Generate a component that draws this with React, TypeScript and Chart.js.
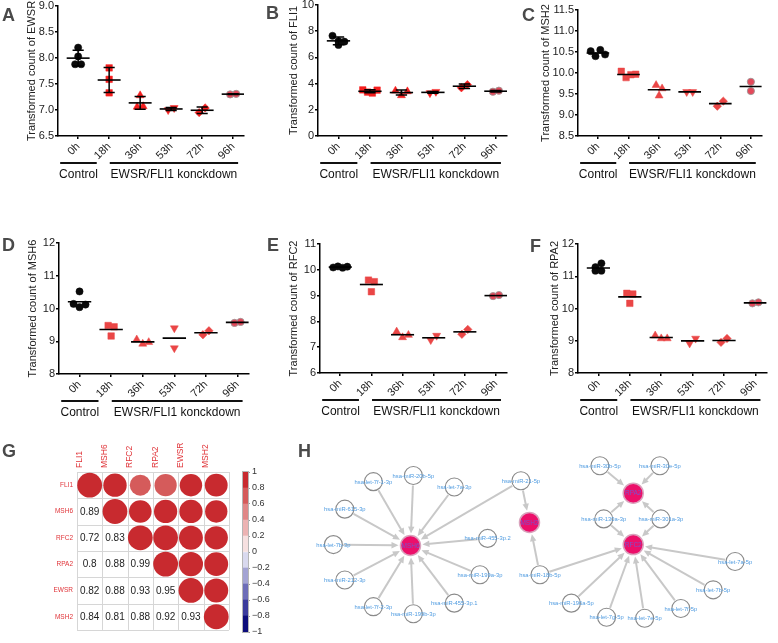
import React, { useEffect, useRef } from 'react';
import { Chart, registerables } from 'chart.js';

Chart.register(...registerables);

const FONT = '"Liberation Sans", Arial, Helvetica, sans-serif';

// ---------------- Data: panels A-F ----------------
const TIME_POINTS = ['0h', '18h', '36h', '53h', '72h', '96h'];
const GROUP_LABELS = ['Control', 'EWSR/FLI1 konckdown'];

const EWSR_COUNTS = [[8.2, 8.03, 7.88, 7.88], [7.81, 7.59, 7.33], [7.28, 7.06, 7.07], [7.0, 7.04], [6.95, 7.04], [7.3, 7.31]];
const FLI1_COUNTS = [[7.65, 7.25, 7.2, 6.95], [3.52, 3.35, 3.28, 3.5], [3.45, 3.1, 3.4], [3.28, 3.38], [3.68, 3.92], [3.38, 3.46]];
const MSH2_COUNTS = [[10.52, 10.4, 10.55, 10.44], [10.04, 9.89, 9.96, 9.97], [9.46, 9.71, 9.63], [9.55, 9.55], [9.21, 9.33], [9.79, 9.57]];
const MSH6_COUNTS = [[10.52, 10.14, 10.04, 10.12], [9.48, 9.16, 9.44], [9.05, 8.92, 8.97], [9.4, 8.79], [9.2, 9.32], [9.56, 9.59]];
const RFC2_COUNTS = [[10.09, 10.13, 10.08, 10.12], [9.6, 9.15, 9.54], [7.6, 7.38, 7.47], [7.28, 7.45], [7.5, 7.69], [8.98, 9.02]];
const RPA2_COUNTS = [[11.28, 11.4, 11.17, 11.17], [10.47, 10.16, 10.45], [9.16, 9.07, 9.07], [8.92, 9.07], [8.95, 9.07], [10.16, 10.19]];

// ---------------- Data: panel G ----------------
const CORR_GENES = ['FLI1', 'MSH6', 'RFC2', 'RPA2', 'EWSR', 'MSH2'];
const CORR_LOWER = [[], [0.89], [0.72, 0.83], [0.8, 0.88, 0.99], [0.82, 0.88, 0.93, 0.95], [0.84, 0.81, 0.88, 0.92, 0.93]];
const COLORBAR_EDGES = [-1, -0.8, -0.6, -0.4, -0.2, 0, 0.2, 0.4, 0.6, 0.8, 1];
const COLORBAR_COLORS = ['#0c0c7a', '#3b3b9c', '#6d6db8', '#a3a3d3', '#d9d9ee', '#f6e0e0', '#ecb3b3', '#e08787', '#d55b5b', '#c82a2f'];

// ---------------- Data: panel H ----------------
const HUB_GENES = ['MSH6', 'MSH2', 'RPA2', 'RFC2'];
const HUB_X = [104, 229, 338, 338];
const HUB_Y = [106, 80, 47, 105];
const MIRNAS = [
  'hsa-let-7f-1-3p', 'hsa-miR-20b-5p', 'hsa-let-7a-3p', 'hsa-miR-615-3p', 'hsa-let-7b-3p', 'hsa-miR-212-3p',
  'hsa-let-7f-2-3p', 'hsa-miR-199b-3p', 'hsa-miR-455-3p.1', 'hsa-miR-199a-3p', 'hsa-miR-455-3p.2', 'hsa-miR-21-5p',
  'hsa-miR-18b-5p', 'hsa-miR-30b-5p', 'hsa-miR-30e-5p', 'hsa-miR-130a-3p', 'hsa-miR-301a-3p', 'hsa-let-7a-5p',
  'hsa-let-7b-5p', 'hsa-let-7f-5p', 'hsa-let-7e-5p', 'hsa-let-7g-5p', 'hsa-miR-196a-5p',
];
const MIRNA_X = [65, 107, 150, 35, 23, 35, 65, 107, 150, 177, 185, 220, 240, 303, 366, 307, 367, 445, 422, 388, 350, 310, 273];
const MIRNA_Y = [34, 27, 40, 65, 105, 145, 175, 183, 171, 139, 98, 33, 139, 16, 16, 76, 76, 124, 156, 177, 188, 187, 171];
const TARGET_EDGES: [string, string][] = [
  ['hsa-let-7f-1-3p', 'MSH6'], ['hsa-miR-20b-5p', 'MSH6'], ['hsa-let-7a-3p', 'MSH6'], ['hsa-miR-615-3p', 'MSH6'],
  ['hsa-let-7b-3p', 'MSH6'], ['hsa-miR-212-3p', 'MSH6'], ['hsa-let-7f-2-3p', 'MSH6'], ['hsa-miR-199b-3p', 'MSH6'],
  ['hsa-miR-455-3p.1', 'MSH6'], ['hsa-miR-199a-3p', 'MSH6'], ['hsa-miR-455-3p.2', 'MSH6'], ['hsa-miR-21-5p', 'MSH6'],
  ['hsa-miR-21-5p', 'MSH2'], ['hsa-miR-18b-5p', 'MSH2'],
  ['hsa-miR-30b-5p', 'RPA2'], ['hsa-miR-30e-5p', 'RPA2'], ['hsa-miR-130a-3p', 'RPA2'], ['hsa-miR-301a-3p', 'RPA2'],
  ['hsa-miR-130a-3p', 'RFC2'], ['hsa-miR-301a-3p', 'RFC2'], ['hsa-miR-18b-5p', 'RFC2'], ['hsa-miR-196a-5p', 'RFC2'],
  ['hsa-let-7g-5p', 'RFC2'], ['hsa-let-7e-5p', 'RFC2'], ['hsa-let-7f-5p', 'RFC2'], ['hsa-let-7b-5p', 'RFC2'],
  ['hsa-let-7a-5p', 'RFC2'],
];

// ---------------- Layout / style ----------------
type Panel = {
  letter: string; gene: string; counts: number[][]; yMin: number; yMax: number; yStep: number; decimals: number;
  sd: boolean; red: string; left: number; top: number; w: number; h: number; axisX: number; plotTop: number;
  plotBottom: number; cat: number; titleX: number; lx: number; ly: number;
};

const PANELS: Panel[] = [
  { letter: 'A', gene: 'EWSR', counts: EWSR_COUNTS, yMin: 6.5, yMax: 9, yStep: 0.5, decimals: 1, sd: true, red: '#f41e1e', left: 0, top: -2, w: 256, h: 192, axisX: 58, plotTop: 6, plotBottom: 136, cat: 31, titleX: 32, lx: 2, ly: 6 },
  { letter: 'B', gene: 'FLI1', counts: FLI1_COUNTS, yMin: 0, yMax: 10, yStep: 2, decimals: 0, sd: true, red: '#f41e1e', left: 256, top: -3, w: 256, h: 193, axisX: 318, plotTop: 5, plotBottom: 136, cat: 31.6, titleX: 294, lx: 266, ly: 4 },
  { letter: 'C', gene: 'MSH2', counts: MSH2_COUNTS, yMin: 8.5, yMax: 11.5, yStep: 0.5, decimals: 1, sd: false, red: '#ea4646', left: 512, top: 0, w: 266, h: 190, axisX: 578, plotTop: 10, plotBottom: 136, cat: 30.6, titleX: 546, lx: 522, ly: 6 },
  { letter: 'D', gene: 'MSH6', counts: MSH6_COUNTS, yMin: 8, yMax: 12, yStep: 1, decimals: 0, sd: false, red: '#ea4646', left: 0, top: 225, w: 256, h: 200, axisX: 59, plotTop: 243, plotBottom: 374, cat: 31.6, titleX: 33, lx: 2, ly: 236 },
  { letter: 'E', gene: 'RFC2', counts: RFC2_COUNTS, yMin: 6, yMax: 11, yStep: 1, decimals: 0, sd: false, red: '#ea4646', left: 256, top: 225, w: 256, h: 200, axisX: 320, plotTop: 244, plotBottom: 373, cat: 31.8, titleX: 294, lx: 267, ly: 236 },
  { letter: 'F', gene: 'RPA2', counts: RPA2_COUNTS, yMin: 8, yMax: 12, yStep: 1, decimals: 0, sd: false, red: '#ea4646', left: 512, top: 225, w: 266, h: 200, axisX: 578, plotTop: 244, plotBottom: 373, cat: 31.4, titleX: 555, lx: 530, ly: 237 },
];

const MARKERS = [
  { style: 'circle', radius: 3.6, rot: 0 },
  { style: 'rect', radius: 4.6, rot: 0 },
  { style: 'triangle', radius: 4.6, rot: 0 },
  { style: 'triangle', radius: 4.6, rot: 180 },
  { style: 'rectRot', radius: 4.2, rot: 0 },
  { style: 'circle', radius: 3.6, rot: 0 },
];

const X_MIN = -0.65;
const X_MAX = 5.35;

function mean(a: number[]) {
  return a.reduce((s, v) => s + v, 0) / a.length;
}
function stdev(a: number[]) {
  const m = mean(a);
  return Math.sqrt(a.reduce((s, v) => s + (v - m) * (v - m), 0) / (a.length - 1));
}

function swarmOffsets(vals: number[], pxPerUnit: number, spacing: number, thresh: number): number[] {
  const order = vals.map((_, i) => i).sort((a, b) => vals[b] - vals[a]);
  const rows: number[][] = [];
  let top = Infinity;
  for (const idx of order) {
    if (rows.length && (top - vals[idx]) * pxPerUnit < thresh) rows[rows.length - 1].push(idx);
    else {
      rows.push([idx]);
      top = vals[idx];
    }
  }
  const offs = new Array(vals.length).fill(0);
  rows.forEach((r) => {
    r.sort((a, b) => a - b);
    const sp = r.length > 3 ? spacing * 0.8 : spacing;
    r.forEach((idx, k) => {
      offs[idx] = (k - (r.length - 1) / 2) * sp;
    });
  });
  return offs;
}

const groupPlugin = {
  id: 'groupLabels',
  afterDraw(chart: any) {
    const { ctx, chartArea, scales } = chart;
    const x = scales.x;
    const spans = [[-0.58, 0.6], [1.02, 5.16]];
    ctx.save();
    ctx.strokeStyle = '#111';
    ctx.lineWidth = 2;
    ctx.fillStyle = '#111';
    ctx.font = `12px ${FONT}`;
    ctx.textAlign = 'center';
    ctx.textBaseline = 'middle';
    spans.forEach((s, k) => {
      const a = x.getPixelForValue(s[0]);
      const b = x.getPixelForValue(s[1]);
      ctx.beginPath();
      ctx.moveTo(a, chartArea.bottom + 27);
      ctx.lineTo(b, chartArea.bottom + 27);
      ctx.stroke();
      ctx.fillText(GROUP_LABELS[k], (a + b) / 2, chartArea.bottom + 38.5);
    });
    ctx.restore();
  },
};

function buildScatter(p: Panel) {
  const relTop = p.plotTop - p.top;
  const relBottom = p.plotBottom - p.top;
  const xH = p.h - relBottom;
  const yW = p.axisX - p.left;
  const padRight = p.w - yW - 6 * p.cat;
  const pxPerUnit = (p.plotBottom - p.plotTop) / (p.yMax - p.yMin);
  const datasets: any[] = [];

  p.counts.forEach((vals, i) => {
    const m = mean(vals);
    datasets.push({
      type: 'line',
      data: [{ x: i - 0.37, y: m }, { x: i + 0.37, y: m }],
      borderColor: '#000',
      borderWidth: 1.6,
      pointRadius: 0,
      showLine: true,
      order: 0,
    });
    if (p.sd) {
      const s = stdev(vals);
      datasets.push({
        type: 'line',
        data: [
          { x: i, y: m - s }, { x: i, y: m + s }, { x: i, y: null },
          { x: i - 0.18, y: m + s }, { x: i + 0.18, y: m + s }, { x: i, y: null },
          { x: i - 0.18, y: m - s }, { x: i + 0.18, y: m - s },
        ],
        borderColor: '#000',
        borderWidth: 1.5,
        pointRadius: 0,
        showLine: true,
        spanGaps: false,
        order: 0,
      });
    }
  });

  p.counts.forEach((vals, i) => {
    const offs = swarmOffsets(vals, pxPerUnit, 6, 7);
    const mk = MARKERS[i];
    const fill = i === 0 ? '#0a0a0a' : i === 5 ? '#e4485a' : p.red;
    datasets.push({
      type: 'scatter',
      data: vals.map((v, j) => ({ x: i + offs[j] / p.cat, y: v })),
      pointStyle: mk.style,
      pointRadius: mk.radius,
      pointRotation: mk.rot,
      pointBackgroundColor: fill,
      pointBorderColor: i === 5 ? 'rgba(160,150,150,0.9)' : fill,
      pointBorderWidth: i === 5 ? 1 : 0.5,
      showLine: false,
      order: 1,
    });
  });

  const axisCommon = {
    grid: { display: true, drawOnChartArea: false, drawTicks: true, tickLength: 3, color: '#000', tickColor: '#000', lineWidth: 1.5 },
    border: { display: true, color: '#000', width: 1.5 },
  };

  return {
    type: 'scatter',
    data: { datasets },
    plugins: [groupPlugin],
    options: {
      responsive: false,
      animation: false,
      events: [],
      layout: { padding: { top: relTop, right: padRight, bottom: 0, left: 0 } },
      plugins: { legend: { display: false }, tooltip: { enabled: false } },
      scales: {
        x: {
          type: 'linear',
          min: X_MIN,
          max: X_MAX,
          afterBuildTicks: (s: any) => {
            s.ticks = TIME_POINTS.map((_, i) => ({ value: i }));
          },
          afterFit: (s: any) => {
            s.height = xH;
          },
          ticks: {
            callback: (v: number) => TIME_POINTS[Math.round(v)] ?? '',
            minRotation: 45,
            maxRotation: 45,
            autoSkip: false,
            font: { family: FONT, size: 11 },
            color: '#222',
            padding: 1,
          },
          ...axisCommon,
        },
        y: {
          type: 'linear',
          min: p.yMin,
          max: p.yMax,
          afterFit: (s: any) => {
            s.width = yW;
          },
          ticks: {
            stepSize: p.yStep,
            callback: (v: number) => Number(v).toFixed(p.decimals),
            font: { family: FONT, size: 11 },
            color: '#222',
            padding: 1,
          },
          title: {
            display: true,
            text: 'Transformed count of ' + p.gene,
            font: { family: FONT, size: 11 },
            color: '#222',
            padding: { top: p.titleX - p.left - 6.6, bottom: 0 },
          },
          ...axisCommon,
        },
      },
    },
  };
}

// ---------------- Panel G ----------------
function corrValue(i: number, j: number) {
  if (i === j) return 1;
  return i > j ? CORR_LOWER[i][j] : CORR_LOWER[j][i];
}
function binColor(v: number) {
  for (let k = 0; k < COLORBAR_COLORS.length; k++) {
    const lo = COLORBAR_EDGES[k];
    const hi = COLORBAR_EDGES[k + 1];
    if (v >= 0 ? v > lo && v <= hi : v >= lo && v < hi) return COLORBAR_COLORS[k];
  }
  return COLORBAR_COLORS[COLORBAR_COLORS.length - 1];
}

const cellGridPlugin = {
  id: 'cellGrid',
  beforeDatasetsDraw(chart: any) {
    const { ctx, chartArea, scales } = chart;
    ctx.save();
    ctx.strokeStyle = '#d6d6d6';
    ctx.lineWidth = 1;
    for (let k = 0; k <= CORR_GENES.length; k++) {
      const px = Math.round(scales.x.getPixelForValue(k - 0.5)) + 0.5;
      const py = Math.round(scales.y.getPixelForValue(k - 0.5)) + 0.5;
      ctx.beginPath();
      ctx.moveTo(px, chartArea.top);
      ctx.lineTo(px, chartArea.bottom);
      ctx.moveTo(chartArea.left, py);
      ctx.lineTo(chartArea.right, py);
      ctx.stroke();
    }
    ctx.restore();
  },
  afterDatasetsDraw(chart: any) {
    const { ctx, scales } = chart;
    ctx.save();
    ctx.fillStyle = '#222';
    ctx.font = `10px ${FONT}`;
    ctx.textAlign = 'center';
    ctx.textBaseline = 'middle';
    CORR_LOWER.forEach((row, i) => {
      row.forEach((v, j) => {
        ctx.fillText(String(v), scales.x.getPixelForValue(j), scales.y.getPixelForValue(i) + 0.5);
      });
    });
    ctx.restore();
  },
};

function buildCorr() {
  const data: any[] = [];
  for (let i = 0; i < CORR_GENES.length; i++) {
    for (let j = i; j < CORR_GENES.length; j++) data.push({ x: j, y: i, v: corrValue(i, j) });
  }
  const labelTicks = (s: any) => {
    s.ticks = CORR_GENES.map((_, i) => ({ value: i }));
  };
  return {
    type: 'scatter',
    data: {
      datasets: [
        {
          data,
          pointStyle: 'circle',
          pointRadius: (ctx: any) => {
            const a = ctx.chart.chartArea;
            const cell = a ? Math.min(a.width, a.height) / CORR_GENES.length : 26.7;
            const v = ctx.raw ? ctx.raw.v : 1;
            return cell * 0.49 * Math.sqrt(Math.abs(v));
          },
          pointBackgroundColor: (ctx: any) => binColor(ctx.raw ? ctx.raw.v : 1),
          pointBorderWidth: 0,
        },
      ],
    },
    plugins: [cellGridPlugin],
    options: {
      responsive: false,
      animation: false,
      events: [],
      layout: { padding: { top: 0, right: 2, bottom: 11, left: 0 } },
      plugins: { legend: { display: false }, tooltip: { enabled: false } },
      scales: {
        x: {
          type: 'linear',
          position: 'top',
          min: -0.5,
          max: 5.5,
          afterBuildTicks: labelTicks,
          afterFit: (s: any) => {
            s.height = 32;
          },
          ticks: {
            callback: (v: number) => CORR_GENES[Math.round(v)] ?? '',
            minRotation: 90,
            maxRotation: 90,
            autoSkip: false,
            color: '#e0353a',
            font: { family: FONT, size: 8.5 },
            padding: 4,
          },
          grid: { display: false, drawTicks: false },
          border: { display: false },
        },
        y: {
          type: 'linear',
          min: -0.5,
          max: 5.5,
          reverse: true,
          afterBuildTicks: labelTicks,
          afterFit: (s: any) => {
            s.width = 77;
          },
          ticks: {
            callback: (v: number) => CORR_GENES[Math.round(v)] ?? '',
            autoSkip: false,
            color: '#e0353a',
            font: { family: FONT, size: 6.5 },
            padding: 4,
          },
          grid: { display: false, drawTicks: false },
          border: { display: false },
        },
      },
    },
  };
}

const outlinePlugin = {
  id: 'outline',
  afterDatasetsDraw(chart: any) {
    const { ctx, chartArea } = chart;
    ctx.save();
    ctx.strokeStyle = '#b5b5b5';
    ctx.lineWidth = 1;
    ctx.strokeRect(chartArea.left - 0.5, chartArea.top - 0.5, chartArea.right - chartArea.left + 1, chartArea.bottom - chartArea.top + 1);
    ctx.restore();
  },
};

function buildColorbar() {
  return {
    type: 'bar',
    data: {
      labels: [''],
      datasets: COLORBAR_COLORS.map((c, k) => ({
        data: [[COLORBAR_EDGES[k], COLORBAR_EDGES[k + 1]]],
        backgroundColor: c,
        borderWidth: 0,
        grouped: false,
        barPercentage: 1,
        categoryPercentage: 1,
      })),
    },
    plugins: [outlinePlugin],
    options: {
      responsive: false,
      animation: false,
      events: [],
      layout: { padding: { top: 32, right: 0, bottom: 11, left: 7 } },
      plugins: { legend: { display: false }, tooltip: { enabled: false } },
      scales: {
        x: { display: false },
        y: {
          position: 'right',
          min: -1,
          max: 1,
          afterFit: (s: any) => {
            s.width = 30;
          },
          ticks: {
            stepSize: 0.2,
            callback: (v: number) => {
              const r = Math.round(v * 10) / 10;
              return r < 0 ? '\u2212' + Math.abs(r) : String(r);
            },
            font: { family: FONT, size: 9 },
            color: '#333',
            padding: 2,
          },
          grid: { drawOnChartArea: false, drawTicks: true, tickLength: 2, color: '#999', tickColor: '#999' },
          border: { display: false },
        },
      },
    },
  };
}

// ---------------- Panel H ----------------
const networkPlugin = {
  id: 'network',
  beforeDatasetsDraw(chart: any) {
    const { ctx, scales } = chart;
    const pos = (name: string) => {
      const h = HUB_GENES.indexOf(name);
      if (h >= 0) return { x: scales.x.getPixelForValue(HUB_X[h]), y: scales.y.getPixelForValue(HUB_Y[h]), r: 10 };
      const m = MIRNAS.indexOf(name);
      return { x: scales.x.getPixelForValue(MIRNA_X[m]), y: scales.y.getPixelForValue(MIRNA_Y[m]), r: 9 };
    };
    ctx.save();
    ctx.strokeStyle = '#c8c8c8';
    ctx.fillStyle = '#c8c8c8';
    ctx.lineWidth = 2;
    TARGET_EDGES.forEach(([src, dst]) => {
      const a = pos(src);
      const b = pos(dst);
      const dx = b.x - a.x;
      const dy = b.y - a.y;
      const len = Math.hypot(dx, dy);
      const ux = dx / len;
      const uy = dy / len;
      const sx = a.x + ux * (a.r + 1);
      const sy = a.y + uy * (a.r + 1);
      const ex = b.x - ux * (b.r + 2);
      const ey = b.y - uy * (b.r + 2);
      const al = 7;
      const aw = 3.2;
      ctx.beginPath();
      ctx.moveTo(sx, sy);
      ctx.lineTo(ex - ux * al * 0.7, ey - uy * al * 0.7);
      ctx.stroke();
      ctx.beginPath();
      ctx.moveTo(ex, ey);
      ctx.lineTo(ex - ux * al - uy * aw, ey - uy * al + ux * aw);
      ctx.lineTo(ex - ux * al + uy * aw, ey - uy * al - ux * aw);
      ctx.closePath();
      ctx.fill();
    });
    ctx.restore();
  },
  afterDatasetsDraw(chart: any) {
    const { ctx, scales } = chart;
    ctx.save();
    ctx.textAlign = 'center';
    ctx.textBaseline = 'middle';
    ctx.font = `5.8px ${FONT}`;
    ctx.fillStyle = '#4f9be0';
    MIRNAS.forEach((n, k) => {
      ctx.fillText(n, scales.x.getPixelForValue(MIRNA_X[k]), scales.y.getPixelForValue(MIRNA_Y[k]) + 0.5);
    });
    ctx.font = `6.5px ${FONT}`;
    ctx.fillStyle = '#7a52cc';
    HUB_GENES.forEach((n, k) => {
      ctx.fillText(n, scales.x.getPixelForValue(HUB_X[k]), scales.y.getPixelForValue(HUB_Y[k]) + 0.5);
    });
    ctx.restore();
  },
};

function buildNetwork() {
  return {
    type: 'scatter',
    data: {
      datasets: [
        {
          data: HUB_GENES.map((n, k) => ({ x: HUB_X[k], y: HUB_Y[k] })),
          pointRadius: 10,
          pointBackgroundColor: '#ec0f6a',
          pointBorderColor: '#d9a3bd',
          pointBorderWidth: 1.5,
        },
        {
          data: MIRNAS.map((n, k) => ({ x: MIRNA_X[k], y: MIRNA_Y[k] })),
          pointRadius: 9,
          pointBackgroundColor: '#ffffff',
          pointBorderColor: '#8a8a8a',
          pointBorderWidth: 1.1,
        },
      ],
    },
    plugins: [networkPlugin],
    options: {
      responsive: false,
      animation: false,
      events: [],
      layout: { padding: 0 },
      plugins: { legend: { display: false }, tooltip: { enabled: false } },
      scales: {
        x: { type: 'linear', display: false, min: 0, max: 478 },
        y: { type: 'linear', display: false, min: 0, max: 203, reverse: true },
      },
    },
  };
}

// ---------------- Components ----------------
function ChartBox({ left, top, w, h, build }: { left: number; top: number; w: number; h: number; build: () => any }) {
  const ref = useRef<HTMLCanvasElement>(null);
  useEffect(() => {
    const chart = new Chart(ref.current as HTMLCanvasElement, build());
    return () => chart.destroy();
  }, []);
  return <canvas ref={ref} width={w} height={h} style={{ position: 'absolute', left, top, width: w, height: h }} />;
}

function Letter({ text, x, y }: { text: string; x: number; y: number }) {
  return (
    <div
      style={{
        position: 'absolute',
        left: x,
        top: y,
        fontFamily: FONT,
        fontWeight: 'bold',
        fontSize: 18,
        lineHeight: '18px',
        color: '#4a4a4a',
      }}
    >
      {text}
    </div>
  );
}

export default function App() {
  return (
    <div style={{ position: 'absolute', left: 0, top: 0, width: 778, height: 643, overflow: 'hidden', background: '#fff' }}>
      {PANELS.map((p) => (
        <ChartBox key={p.letter} left={p.left} top={p.top} w={p.w} h={p.h} build={() => buildScatter(p)} />
      ))}
      <ChartBox left={0} top={440} w={242} h={203} build={buildCorr} />
      <ChartBox left={236} top={440} w={42} h={203} build={buildColorbar} />
      <ChartBox left={300} top={440} w={478} h={203} build={buildNetwork} />
      {PANELS.map((p) => (
        <Letter key={'L' + p.letter} text={p.letter} x={p.lx} y={p.ly} />
      ))}
      <Letter text="G" x={2} y={442} />
      <Letter text="H" x={298} y={442} />
    </div>
  );
}
